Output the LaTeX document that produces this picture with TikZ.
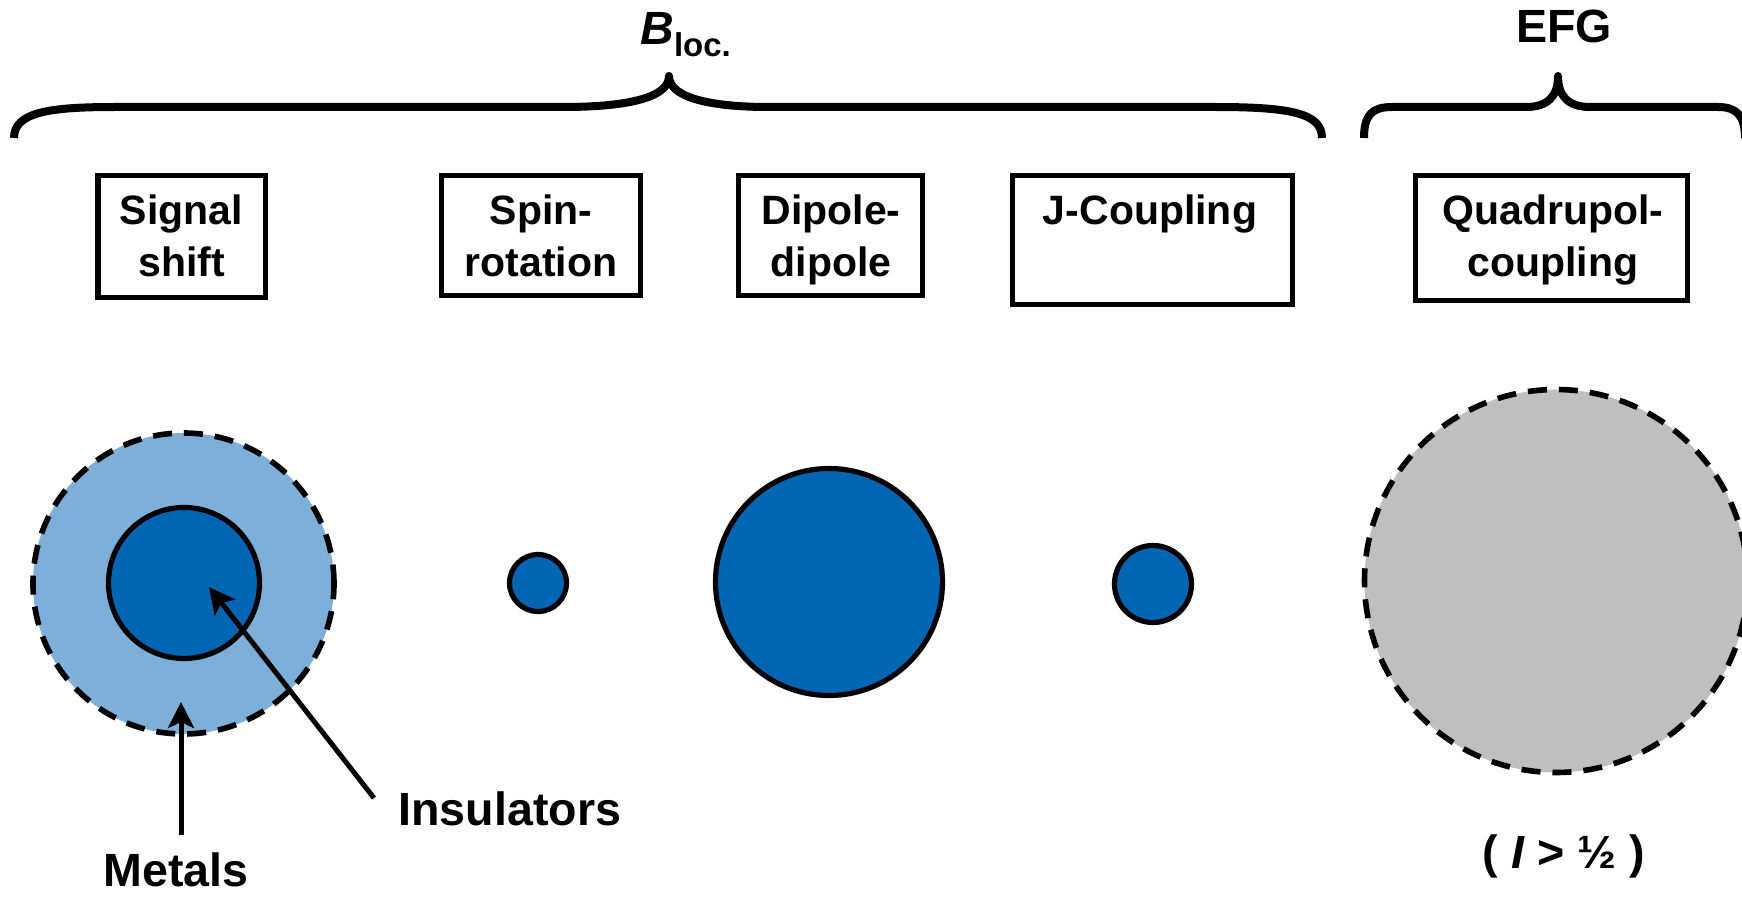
\documentclass[tikz,border=0pt]{standalone}
\usepackage{fontspec}
\setmainfont{Liberation Sans}
\usetikzlibrary{arrows.meta}
\definecolor{deepblue}{RGB}{0,102,179}
\definecolor{paleblue}{RGB}{125,175,216}
\definecolor{efggrey}{RGB}{191,191,191}
\begin{document}
\begin{tikzpicture}[x=0.5pt,y=-0.5pt,
  boxst/.style={draw,line width=2.75pt,rectangle,inner sep=0pt},
  boxtext/.style={font=\bfseries\fontsize{20.5}{26}\selectfont,align=center,inner sep=0pt,anchor=base},
  bigtext/.style={font=\bfseries\fontsize{23.3}{27}\selectfont,inner sep=0pt},
  bracest/.style={line width=4pt,line join=round},
  ring/.style={circle,draw,line width=2.6pt,inner sep=0pt,fill=deepblue},
  dashring/.style={circle,draw,line width=2.8pt,dash pattern=on 9.5pt off 6pt,inner sep=0pt},
  pointer/.style={line width=2.5pt,-{Stealth[length=13pt,width=13pt,inset=3pt]}}
]
\useasboundingbox (0,0) rectangle (1742,899);
\fill[white] (0,0) rectangle (1742,899);

% group labels and braces
\node[anchor=base west,inner sep=0pt] (bloc) at (640,45)
  {\fontsize{23.3}{27}\selectfont\bfseries\itshape B\upshape\fontsize{16.5}{20}\selectfont\raisebox{-6pt}{loc.}};
\node[bigtext,anchor=base] (efg) at (1564,43) {EFG};

\draw[bracest] (14,138) .. controls (14,112) and (50,107) .. (115,107) -- (563,107)
  .. controls (630,107) and (669,97) .. (669,76)
  .. controls (669,97) and (708,107) .. (769,107) -- (1215,107)
  .. controls (1290,107) and (1322,113) .. (1322,138);
\draw[bracest] (1364,138) .. controls (1364,115) and (1372,107) .. (1392,107) -- (1526,107)
  .. controls (1548,107) and (1558,96) .. (1558,76)
  .. controls (1558,96) and (1568,107) .. (1590,107) -- (1718,107)
  .. controls (1736,107) and (1745,115) .. (1745,138);

% interaction boxes
\node[boxst,minimum width=83.75pt,minimum height=61pt] (shiftbox) at (181.5,236.5) {};
\node[boxst,minimum width=99.5pt,minimum height=60pt] (spinbox) at (541,235.5) {};
\node[boxst,minimum width=92pt,minimum height=60pt] (dipbox) at (830.5,235.5) {};
\node[boxst,minimum width=140pt,minimum height=64.5pt] (jbox) at (1152.5,240) {};
\node[boxst,minimum width=136pt,minimum height=62.5pt] (quadbox) at (1551.5,238) {};

% two-line labels sit on the baseline of their second line
\node[boxtext] (shifttxt) at (181.5,277) {Signal\\shift};
\node[boxtext] (spintxt) at (541,277) {Spin-\\rotation};
\node[boxtext] (diptxt) at (831,277) {Dipole-\\dipole};
\node[boxtext] (jtxt) at (1150,225) {J-Coupling};
\node[boxtext] (quadtxt) at (1553,277) {Quadrupol-\\coupling};

% circles
\node[dashring,fill=paleblue,minimum size=150.5pt] (metring) at (183.5,583.5) {};
\node[ring,minimum size=75.5pt] (insring) at (184,583) {};
\node[ring,minimum size=28.5pt] (spinring) at (538,583) {};
\node[ring,minimum size=113.5pt] (dipring) at (829,582) {};
\node[ring,minimum size=38.5pt] (jring) at (1153,584) {};
\node[dashring,fill=efggrey,minimum size=191.5pt] (quadring) at (1556,581) {};

% annotations
\node[bigtext,anchor=base] (metals) at (176,886) {Metals};
\node[bigtext,anchor=base west] (insul) at (398,825) {Insulators};
\node[bigtext,anchor=base] (spincond) at (1564,868) {( \textit{I} > ½ )};

\coordinate (metTail) at (181,835);
\coordinate (metTip) at (181,702);
\coordinate (insTail) at (374,798);
\coordinate (insTip) at (209,587);
\draw[pointer] (metTail) -- (metTip);
\draw[pointer] (insTail) -- (insTip);
\end{tikzpicture}
\end{document}
